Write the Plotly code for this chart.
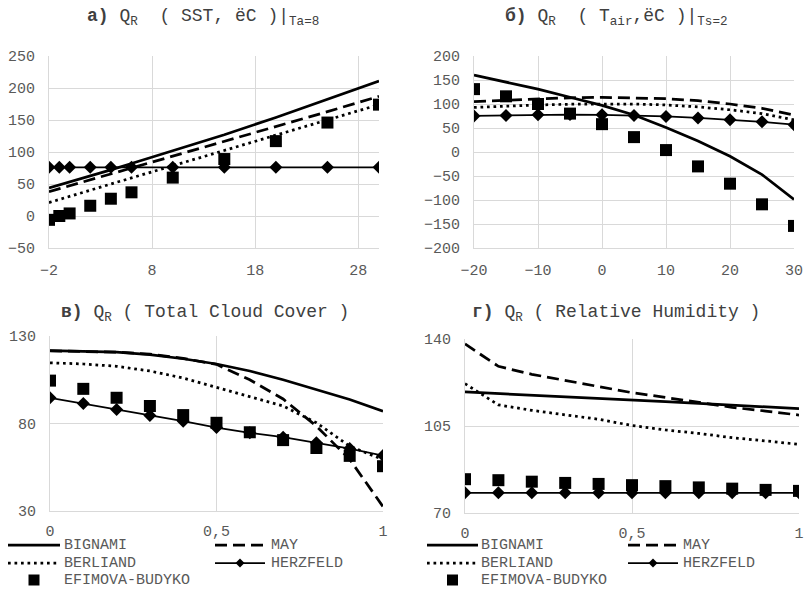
import plotly.graph_objects as go

W, H = 804, 589
FONT = "Liberation Mono, Courier New, monospace"
GRID = "#d9d9d9"
TICK = "#595959"

# ---------------- data ----------------
# а) Q_R(SST)
sst_x = [-2, -1, 0, 2, 4, 6, 10, 15, 20, 25, 30]
a_bignami = [44, 48.5, 53, 62.5, 72, 82, 102, 127, 154, 182, 211]
a_may = [38, 42.5, 47, 56, 65.5, 75, 93.5, 116.5, 140, 163, 187]
a_berliand = [21, 26, 30.5, 40, 50, 59.5, 78.5, 102.5, 126.5, 150, 174]
a_herzfeld = [76, 76, 76, 76, 76, 76, 76, 76, 76, 76, 76]
a_efimova = [-6, 0, 4, 16, 27, 37, 60, 89, 117, 146, 174]
a_ticks = [-2, 8, 18, 28]

# б) Q_R(T_air)
tair_x = [-20, -15, -10, -5, 0, 5, 10, 15, 20, 25, 30]
b_bignami = [160, 146, 131, 114, 97, 77, 51, 23, -9, -47, -99]
b_may = [105, 108, 111, 113, 114, 113, 111, 107, 100, 91, 77]
b_berliand = [93, 96, 98, 99.5, 100, 100, 98, 94, 88, 80, 67]
b_herzfeld = [75, 76, 77.5, 78, 77.5, 76, 74, 71, 67, 63, 57]
b_efimova = [131, 116, 100, 80, 58, 31, 4, -30, -66, -109, -154]

# в) Q_R(Total Cloud Cover)
tcc_x = [0, 0.1, 0.2, 0.3, 0.4, 0.5, 0.6, 0.7, 0.8, 0.9, 1.0]
c_bignami = [121.7, 121.3, 120.8, 119.4, 117, 114, 110, 105, 99.4, 93.7, 87]
c_may = [121.5, 121.3, 120.8, 119.6, 117.2, 113.8, 105, 94, 78.5, 59.5, 32.5]
c_berliand = [114.7, 114, 112.7, 110, 106, 100.7, 95.6, 90, 80.4, 67, 59.4]
c_herzfeld = [94.7, 91.4, 88, 84.6, 81.3, 77.7, 74.7, 72.2, 69, 65.7, 61.7]
c_efimova = [104.5, 99.8, 94.7, 90, 84.8, 80.4, 75, 70.5, 66, 61.5, 55.6]

# г) Q_R(Relative Humidity)
rh_x = [0, 0.1, 0.2, 0.3, 0.4, 0.5, 0.6, 0.7, 0.8, 0.9, 1.0]
d_bignami = [118.7, 118.1, 117.5, 116.8, 116.2, 115.5, 114.8, 114.1, 113.4, 112.7, 112]
d_may = [138, 129, 125.8, 123.4, 121, 118.4, 116.5, 114.4, 112.5, 111, 109.4]
d_berliand = [122, 113.5, 111.3, 109.4, 107.7, 105.2, 103.4, 102, 100.3, 99, 97.6]
d_herzfeld = [78.1, 78.1, 78.1, 78.1, 78.1, 78.1, 78.1, 78.1, 78.1, 78.1, 78.1]
d_efimova = [83.6, 83.2, 82.6, 82.1, 81.7, 81.2, 80.8, 80.3, 79.8, 79.3, 78.9]

frac_ticks = [0, 0.5, 1]
frac_ticktext = ["0", "0,5", "1"]

series_names = ["BIGNAMI", "MAY", "BERLIAND", "HERZFELD", "EFIMOVA-BUDYKO"]

# ---------------- styles ----------------
LW = 2.75
LINES = {
    "BIGNAMI": dict(color="black", width=LW),
    "MAY": dict(color="black", width=LW, dash="12px,6px"),
    "BERLIAND": dict(color="black", width=LW, dash="2.7px,3.8px"),
    "HERZFELD": dict(color="black", width=1.75),
}
STY = {
    "BIGNAMI": dict(mode="lines", line=LINES["BIGNAMI"]),
    "MAY": dict(mode="lines", line=LINES["MAY"]),
    "BERLIAND": dict(mode="lines", line=LINES["BERLIAND"]),
    "HERZFELD": dict(mode="lines+markers", line=LINES["HERZFELD"],
                     marker=dict(symbol="diamond", size=10, color="black")),
    "EFIMOVA-BUDYKO": dict(mode="markers", marker=dict(symbol="square", size=12, color="black")),
}

fig = go.Figure()

panels = [
    ("x", "y", sst_x, [a_bignami, a_may, a_berliand, a_herzfeld, a_efimova]),
    ("x2", "y2", tair_x, [b_bignami, b_may, b_berliand, b_herzfeld, b_efimova]),
    ("x3", "y3", tcc_x, [c_bignami, c_may, c_berliand, c_herzfeld, c_efimova]),
    ("x4", "y4", rh_x, [d_bignami, d_may, d_berliand, d_herzfeld, d_efimova]),
]
for xa, ya, xs, ys_list in panels:
    for name, ys in zip(series_names, ys_list):
        fig.add_trace(go.Scatter(x=xs, y=ys, name=name, xaxis=xa, yaxis=ya,
                                 showlegend=False, hoverinfo="skip", **STY[name]))


def px_dom_x(a, b):
    return [a / W, b / W]


def px_dom_y(top, bottom):
    return [1 - bottom / H, 1 - top / H]


def px(xp):
    return xp / W


def py(yp):
    return 1 - yp / H


tickfont = dict(family=FONT, size=15, color=TICK)
common = dict(showgrid=True, gridcolor=GRID, gridwidth=1, zeroline=False,
              showline=True, linecolor=GRID, linewidth=1, automargin=False,
              ticks="outside", tickcolor="rgba(0,0,0,0)", tickfont=tickfont,
              fixedrange=True)

fig.update_layout(
    xaxis=dict(domain=px_dom_x(49, 379), range=[-2, 30], tickmode="array",
               tickvals=a_ticks, ticklen=8, anchor="y", **common),
    yaxis=dict(domain=px_dom_y(56, 248), range=[-50, 250], dtick=50, tick0=0,
               ticklen=10, anchor="x", **common),
    xaxis2=dict(domain=px_dom_x(474, 794), range=[-20, 30], dtick=10, tick0=0,
                ticklen=8, anchor="y2", **common),
    yaxis2=dict(domain=px_dom_y(56, 248), range=[-200, 200], dtick=50, tick0=0,
                ticklen=10, anchor="x2", **common),
    xaxis3=dict(domain=px_dom_x(50, 383), range=[0, 1], tickmode="array",
                tickvals=frac_ticks, ticktext=frac_ticktext, ticklen=6, anchor="y3", **common),
    yaxis3=dict(domain=px_dom_y(336, 511), range=[30, 130], dtick=50, tick0=30,
                ticklen=10, anchor="x3", **common),
    xaxis4=dict(domain=px_dom_x(465, 799), range=[0, 1], tickmode="array",
                tickvals=frac_ticks, ticktext=frac_ticktext, ticklen=6, anchor="y4", **common),
    yaxis4=dict(domain=px_dom_y(339, 513), range=[70, 140], dtick=35, tick0=70,
                ticklen=10, anchor="x4", **common),
    width=W, height=H,
    margin=dict(l=0, r=0, t=0, b=0, pad=0, autoexpand=False),
    paper_bgcolor="white", plot_bgcolor="rgba(0,0,0,0)",
    showlegend=False,
)

# ---------------- titles ----------------
TITLE_COL = "#404040"
NB = "\u00a0"
titles = [
    (f"<b>а)</b> Q<sub>R</sub>{NB} ( SST, ëC )|<sub>Ta=8</sub>", 203, 18),
    (f"<b>б)</b> Q<sub>R</sub>{NB} ( T<sub>air</sub>,ëC )|<sub>Ts=2</sub>", 616, 18),
    ("<b>в)</b> Q<sub>R</sub> ( Total Cloud Cover )", 205, 313),
    ("<b>г)</b> Q<sub>R</sub> ( Relative Humidity )", 616, 313),
]
for txt, cx, cy in titles:
    fig.add_annotation(text=txt, x=px(cx), y=py(cy), xref="paper", yref="paper",
                       xanchor="center", yanchor="middle", showarrow=False,
                       font=dict(family=FONT, size=18, color=TITLE_COL))

# ---------------- legends (one under each bottom panel) ----------------
legend_layouts = [
    dict(c1=(8, 60, 63), c2=(215, 265, 270), rows=(545, 563, 580)),
    dict(c1=(427, 478, 480), c2=(628, 678, 682), rows=(545, 563, 580)),
]
slots = {"BIGNAMI": ("c1", 0), "MAY": ("c2", 0), "BERLIAND": ("c1", 1),
         "HERZFELD": ("c2", 1), "EFIMOVA-BUDYKO": ("c1", 2)}
for lay in legend_layouts:
    for name in series_names:
        col, row = slots[name]
        x0, x1, tx = lay[col]
        yy = lay["rows"][row]
        xm = (x0 + x1) / 2
        if name == "EFIMOVA-BUDYKO":
            s = 5.5
            fig.add_shape(type="rect", xref="paper", yref="paper",
                          x0=px(xm - s), x1=px(xm + s), y0=py(yy + s), y1=py(yy - s),
                          fillcolor="black", line=dict(width=0))
        else:
            fig.add_shape(type="line", xref="paper", yref="paper",
                          x0=px(x0), x1=px(x1), y0=py(yy), y1=py(yy),
                          line=LINES[name])
            if name == "HERZFELD":
                d = 4.5
                path = (f"M {px(xm - d)},{py(yy)} L {px(xm)},{py(yy - d)} "
                        f"L {px(xm + d)},{py(yy)} L {px(xm)},{py(yy + d)} Z")
                fig.add_shape(type="path", xref="paper", yref="paper", path=path,
                              fillcolor="black", line=dict(width=0))
        fig.add_annotation(text=name, x=px(tx), y=py(yy), xref="paper", yref="paper",
                           xanchor="left", yanchor="middle", showarrow=False,
                           borderpad=0,
                           font=dict(family=FONT, size=15, color=TICK))

fig.write_html("out.html")
